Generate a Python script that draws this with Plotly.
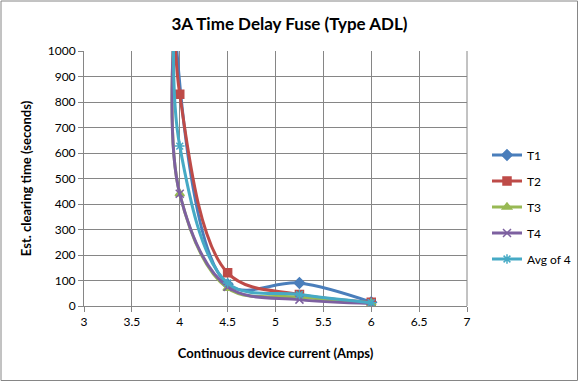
import plotly.graph_objects as go

x_common = [3.95, 4.0, 4.5, 5.25, 6.0]
x_t1 = [3.95, 4.5, 5.25, 6.0]
t1 = [1100, 85, 90, 15]
t2 = [1350, 830, 130, 45, 15]
t3 = [1150, 440, 70, 35, 12]
t4 = [1150, 440, 75, 25, 10]
avg = [1250, 627, 90, 45, 13]

names = ["T1", "T2", "T3", "T4", "Avg of 4"]
colors = ["#4A7EBB", "#BE4B48", "#98B954", "#7D60A0", "#46AAC5"]
symbols = ["diamond", "square", "triangle-up", "x-thin-open", "asterisk-open"]
xs = [x_t1, x_common, x_common, x_common, x_common]
ys = [t1, t2, t3, t4, avg]

W, H = 579, 382
L, R, T, B = 84, 112, 51, 76
pw, ph = W - L - R, H - T - B

fig = go.Figure()
for n, c, s, xv, yv in zip(names, colors, symbols, xs, ys):
    fig.add_trace(go.Scatter(
        x=xv, y=yv, name=n, mode="lines+markers", legendgroup=n,
        line=dict(color=c, width=3, shape="spline", smoothing=1),
        marker=dict(symbol=s, size=8, color=c, line=dict(color=c, width=1.5)),
        cliponaxis=True,
    ))

fig.update_layout(
    width=W, height=H,
    margin=dict(l=L, r=R, t=T, b=B),
    paper_bgcolor="white", plot_bgcolor="white",
    font=dict(family="Lato, Open Sans, sans-serif", color="black", size=12),
    title=dict(text="<b>3A Time Delay Fuse (Type ADL)</b>", x=0.5, xanchor="center",
               y=1 - 24 / H, yanchor="middle", font=dict(size=17)),
    showlegend=True,
    legend=dict(xref="container", yref="container", x=487 / W, xanchor="left",
                y=1 - 207 / H, yanchor="middle",
                font=dict(size=12), tracegroupgap=7, itemwidth=30,
                bgcolor="rgba(0,0,0,0)"),
    xaxis=dict(range=[3, 7], dtick=0.5, showgrid=True, gridcolor="#868686", gridwidth=1,
               showline=True, linecolor="#868686", mirror=False, ticks="outside",
               ticklen=5, tickcolor="#868686", zeroline=False, fixedrange=True,
               title=dict(text="<b>Continuous device current (Amps)</b>", font=dict(size=13), standoff=20)),
    yaxis=dict(range=[0, 1000], dtick=100, showgrid=True, gridcolor="#868686", gridwidth=1,
               showline=True, linecolor="#868686", ticks="outside", ticklen=5,
               tickcolor="#868686", zeroline=False, fixedrange=True,
               title=dict(text="<b>Est. clearing time (seconds)</b>", font=dict(size=13), standoff=13)),
)
fig.add_shape(type="line", xref="paper", yref="paper", x0=1, x1=1, y0=0, y1=1,
              line=dict(color="#868686", width=1))
fig.add_shape(type="rect", xref="paper", yref="paper",
              x0=-(L - 1) / pw, x1=1 + (R - 1.5) / pw, y0=-(B - 1.5) / ph, y1=1 + (T - 1) / ph,
              line=dict(color="#868686", width=1), layer="below")
fig.write_html("out.html")
